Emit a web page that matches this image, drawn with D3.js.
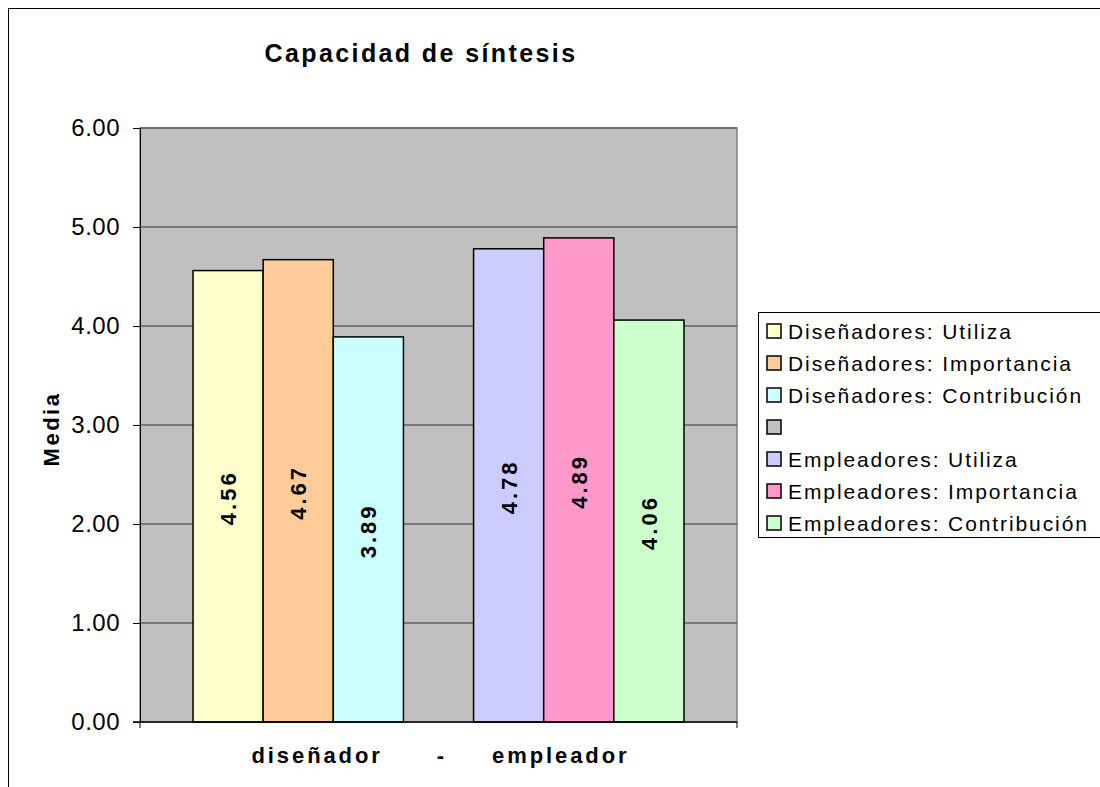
<!DOCTYPE html>
<html>
<head>
<meta charset="utf-8">
<script src="https://cdn.jsdelivr.net/npm/d3@7"></script>
<style>
  body { margin: 0; background: #fff; }
  svg { display: block; font-family: "Liberation Sans", Arial, sans-serif; }
</style>
</head>
<body>
<div id="chart"></div>
<script>
var width = 1100, height = 787;

// data
var category = "diseñador      -     empleador";
var series = ["Diseñadores: Utiliza", "Diseñadores: Importancia", "Diseñadores: Contribución",
              "", "Empleadores: Utiliza", "Empleadores: Importancia", "Empleadores: Contribución"];
var values = [4.56, 4.67, 3.89, null, 4.78, 4.89, 4.06];
var colors = ["#FFFFCC", "#FFCC99", "#CCFFFF", "#C0C0C0", "#CCCCFF", "#FF99CC", "#CCFFCC"];
var yTicks = [0, 1, 2, 3, 4, 5, 6];

var plot = {left: 140, right: 737, top: 128, bottom: 722};

var svg = d3.select('#chart').append('svg')
    .attr('width', width)
    .attr('height', height);

// outer chart border
svg.append('rect')
    .attr('x', 8.5).attr('y', 8.5)
    .attr('width', 1100).attr('height', 800)
    .attr('fill', 'none').attr('stroke', '#000').attr('stroke-width', 1);

var y = d3.scaleLinear().domain([0, 6]).range([plot.bottom, plot.top]);

// one category, 7 series slots (gap width ~150%)
var x0 = d3.scaleBand().domain([category])
    .range([plot.left, plot.right]).paddingInner(0).paddingOuter(0.108);
var slot = d3.scaleBand().domain(d3.range(series.length))
    .range([0, x0.bandwidth()]);

// plot background
svg.append('rect')
    .attr('x', plot.left).attr('y', plot.top)
    .attr('width', plot.right - plot.left).attr('height', plot.bottom - plot.top)
    .attr('fill', '#C0C0C0').attr('stroke', '#808080').attr('stroke-width', 1.5);

// gridlines
svg.append('g').selectAll('line')
    .data(yTicks.filter(function(d) { return d > 0; }))
    .enter().append('line')
    .attr('x1', plot.left).attr('x2', plot.right)
    .attr('y1', function(d) { return y(d); }).attr('y2', function(d) { return y(d); })
    .attr('stroke', '#606060').attr('stroke-width', 1.5);

// y axis
var yAxis = svg.append('g')
    .attr('transform', 'translate(' + plot.left + ',0)')
    .call(d3.axisLeft(y).tickValues(yTicks).tickFormat(d3.format('.2f')).tickSize(7).tickPadding(13));
yAxis.select('.domain').attr('stroke', '#000').attr('stroke-width', 1);
yAxis.selectAll('.tick line').attr('stroke', '#000');
yAxis.selectAll('text')
    .attr('font-size', 24).attr('fill', '#000')
    .attr('letter-spacing', 0.5)
    .attr('font-family', '"Liberation Sans", Arial, sans-serif');

// bars
var bars = svg.append('g').selectAll('g.bar')
    .data(values.map(function(v, i) { return {v: v, i: i}; }).filter(function(d) { return d.v != null; }))
    .enter().append('g').attr('class', 'bar');

bars.append('rect')
    .attr('x', function(d) { return x0(category) + slot(d.i); })
    .attr('y', function(d) { return y(d.v); })
    .attr('width', slot.bandwidth())
    .attr('height', function(d) { return y(0) - y(d.v); })
    .attr('fill', function(d) { return colors[d.i]; })
    .attr('stroke', '#000').attr('stroke-width', 1.5);

bars.append('text')
    .attr('transform', function(d) {
      var cx = x0(category) + slot(d.i) + slot.bandwidth() / 2;
      var cy = (y(d.v) + y(0)) / 2;
      return 'translate(' + (cx + 8) + ',' + (cy + 1.5) + ') rotate(-90)';
    })
    .attr('text-anchor', 'middle')
    .attr('font-size', 22).attr('font-weight', 'bold')
    .attr('letter-spacing', 3)
    .text(function(d) { return d.v.toFixed(2); });

// x axis line
svg.append('line')
    .attr('x1', plot.left - 7).attr('x2', plot.right)
    .attr('y1', plot.bottom).attr('y2', plot.bottom)
    .attr('stroke', '#000').attr('stroke-width', 1.5);
[plot.left, plot.right].forEach(function(px) {
  svg.append('line')
      .attr('x1', px).attr('x2', px)
      .attr('y1', plot.bottom).attr('y2', plot.bottom + 6)
      .attr('stroke', '#000');
});

svg.append('text')
    .attr('x', x0(category) + x0.bandwidth() / 2 + 2).attr('y', 763)
    .attr('text-anchor', 'middle')
    .attr('font-size', 22).attr('font-weight', 'bold')
    .attr('letter-spacing', 2.9)
    .style('white-space', 'pre')
    .text(category);

// title
svg.append('text')
    .attr('x', 421).attr('y', 62)
    .attr('text-anchor', 'middle')
    .attr('font-size', 25).attr('font-weight', 'bold')
    .attr('letter-spacing', 2.4)
    .text('Capacidad de síntesis');

// y label
svg.append('text')
    .attr('transform', 'translate(59,429) rotate(-90)')
    .attr('text-anchor', 'middle')
    .attr('font-size', 22).attr('font-weight', 'bold')
    .attr('letter-spacing', 2.5)
    .text('Media');

// legend
var legend = svg.append('g').attr('transform', 'translate(758,312)');
legend.append('rect')
    .attr('x', 0.5).attr('y', 0.5)
    .attr('width', 345).attr('height', 225)
    .attr('fill', '#fff').attr('stroke', '#000');

var items = legend.selectAll('g.item').data(series)
    .enter().append('g').attr('class', 'item')
    .attr('transform', function(d, i) { return 'translate(0,' + (19 + i * 32) + ')'; });
items.append('rect')
    .attr('x', 9).attr('y', -7).attr('width', 14).attr('height', 14)
    .attr('fill', function(d, i) { return colors[i]; })
    .attr('stroke', '#000').attr('stroke-width', 1.5);
items.append('text')
    .attr('x', 30).attr('y', 0).attr('dy', '0.36em')
    .attr('font-size', 21)
    .attr('letter-spacing', 1.9)
    .text(function(d) { return d; });
</script>
</body>
</html>
